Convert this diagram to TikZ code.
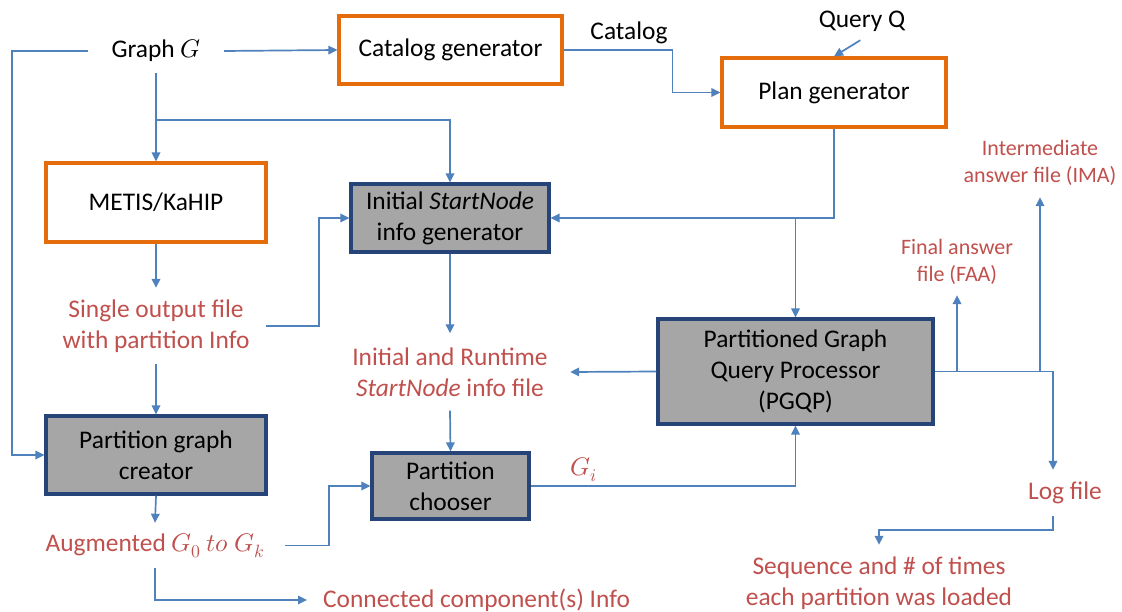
\documentclass[tikz,border=0pt]{standalone}
\usepackage{fontspec}
\usepackage{unicode-math}
\setmainfont{Carlito}
\setmathfont{Latin Modern Math}
\usetikzlibrary{arrows.meta,calc}
\definecolor{orangeB}{RGB}{228,108,10}
\definecolor{navyB}{RGB}{38,68,120}
\definecolor{grayF}{RGB}{166,166,166}
\definecolor{lineB}{RGB}{79,129,189}
\definecolor{redT}{RGB}{192,80,77}
\tikzset{
  base/.style={font=\fontsize{25.4}{31}\selectfont, align=center, inner sep=0pt},
  obox/.style={base, draw=orangeB, line width=3.2pt, fill=white},
  gbox/.style={base, draw=navyB, line width=3.2pt, fill=grayF},
  lbl/.style={base, text=redT},
  slbl/.style={lbl, font=\fontsize{22}{27}\selectfont},
  plaintext/.style={base, text=black},
  link/.style={draw=lineB, line width=1.7pt},
  arr/.style={link, -{Triangle[length=9pt,width=8.5pt]}},
}
\begin{document}
\begin{tikzpicture}[x=1pt,y=-1pt]
\fill[white] (0,0) rectangle (1122,612);
\useasboundingbox (0,0) rectangle (1122,612);

\node[plaintext, minimum width=136pt, minimum height=44pt] (graph) at (156,51) {Graph $G$};
\node[obox, minimum width=223pt, minimum height=68pt] (catalog) at (450.5,50) {Catalog generator};
\node[plaintext] (catlbl) at (629,33) {Catalog};
\node[obox, minimum width=224pt, minimum height=69pt] (plan) at (834,92.5) {Plan generator};
\node[plaintext, minimum height=36pt] (query) at (862,21) {Query Q};
\node[obox, minimum width=220pt, minimum height=79pt] (metis) at (156,202.5) {METIS/KaHIP};
\node[gbox, minimum width=198pt, minimum height=68pt] (init) at (450,218) {Initial \textit{StartNode}\\info generator};
\node[lbl, minimum width=220pt, minimum height=76pt] (single) at (156,326) {Single output file\\with partition Info};
\node[gbox, minimum width=220pt, minimum height=78pt] (pgc) at (156,455) {Partition graph\\creator};
\node[lbl, minimum width=260pt, minimum height=45pt] (aug) at (155,545.5) {Augmented $G_0\ to\ G_k$};
\node[lbl, anchor=west, inner xsep=16pt] (cc) at (307,600) {Connected component(s) Info};
\node[lbl, minimum width=240pt, minimum height=77pt] (isf) at (450,372) {Initial and Runtime\\\textit{StartNode} info file};
\node[gbox, minimum width=157pt, minimum height=66pt] (chooser) at (450.5,486) {Partition\\chooser};
\node[lbl] (gi) at (584,470) {$G_i$};
\node[gbox, minimum width=275pt, minimum height=105pt] (pgqp) at (795.5,371.5) {Partitioned Graph\\Query Processor\\(PGQP)};
\node[slbl, minimum height=66pt] (faa) at (957,262) {Final answer\\file (FAA)};
\node[slbl, minimum height=69pt] (ima) at (1040,162.5) {Intermediate\\answer file (IMA)};
\node[lbl, minimum width=72pt, minimum height=46pt] (logf) at (1065,493) {Log file};
\node[lbl, minimum height=76pt] (seq) at (879,583) {Sequence and \# of times\\each partition was loaded};

\coordinate (gsplit) at (156,120);

\draw[arr] (graph.east) -- (catalog.west);
\draw[arr] (graph.west) -- ++(-76,0) |- (pgc.west);
\draw[arr] (graph.south) -- (metis.north);
\draw[arr] (gsplit) -| (init.north);
\draw[arr] (catalog.east) -- ++(109,0) |- (plan.west);
\draw[arr, shorten <=2pt] (query.south) -- (plan.north);
\draw[arr] (plan.south) |- (init.east);
\draw[arr] (pgqp.north |- init.east) -- (pgqp.north);
\draw[arr] (metis.south) -- (single.north);
\draw[arr] (single.east) -- ++(53,0) |- (init.west);
\draw[arr] (single.south) -- (pgc.north);
\draw[arr] (pgc.south) -- (aug.north);
\draw[arr] (aug.east) -- ++(44,0) |- (chooser.west);
\draw[arr] (aug.south) |- (cc.west);
\draw[arr] (init.south) -- (isf.north);
\draw[arr] (isf.south) -- (chooser.north);
\draw[arr] (pgqp.west) -- (isf.east);
\draw[arr] (chooser.east) -| (pgqp.south);
\draw[arr] (faa.south |- pgqp.east) -- (faa.south);
\draw[arr] (ima.south |- pgqp.east) -- (ima.south);
\draw[arr] (pgqp.east) -| ([xshift=-12pt]logf.north);
\draw[arr] ([xshift=-12pt]logf.south) -- ++(0,14) -| (seq.north);
\end{tikzpicture}
\end{document}
